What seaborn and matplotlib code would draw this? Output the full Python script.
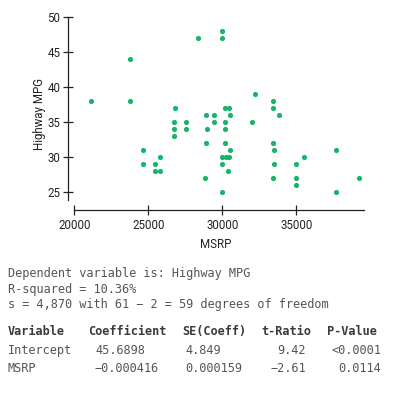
import numpy as np
import pandas as pd
import matplotlib
matplotlib.use("Agg")
import matplotlib.pyplot as plt
import seaborn as sns

msrp = [21100, 23760, 23760,
        26800, 30160, 30430, 33400,
        28340, 30000, 30000,
        32190, 33400,
        28880, 29460, 30540, 33850,
        26760, 27570, 29460, 30160, 32030,
        26760, 27570, 28970, 30160,
        26760,
        28880, 30160, 33400,
        24660, 30540, 33490, 37700,
        25770, 29960, 30230, 30470, 35540,
        24660, 25470, 29960, 33490, 34960,
        25470, 25770, 30370,
        28850, 33400, 34960, 39220,
        34960,
        29960, 37700]
hwy_mpg = [38, 44, 38,
           37, 37, 37, 37,
           47, 47, 48,
           39, 38,
           36, 36, 36, 36,
           35, 35, 35, 35, 35,
           34, 34, 34, 34,
           33,
           32, 32, 32,
           31, 31, 31, 31,
           30, 30, 30, 30, 30,
           29, 29, 29, 29, 29,
           28, 28, 28,
           27, 27, 27, 27,
           26,
           25, 25]

x_ticks = [20000, 25000, 30000, 35000]
y_ticks = [25, 30, 35, 40, 45, 50]

header = ["Variable", "Coefficient", "SE(Coeff)", "t-Ratio", "P-Value"]
rows = [["Intercept", "45.6898", "4.849", "9.42", "<0.0001"],
        ["MSRP", "\u22120.000416", "0.000159", "\u22122.61", "0.0114"]]
summary_lines = ["Dependent variable is: Highway MPG",
                 "R-squared = 10.36%",
                 "s = 4,870 with 61 \u2212 2 = 59 degrees of freedom"]

df = pd.DataFrame({"MSRP": msrp, "Highway MPG": hwy_mpg})

sns.set_style("ticks")
plt.rcParams["font.family"] = ["Roboto", "DejaVu Sans"]

fig = plt.figure(figsize=(3.94, 3.98), dpi=100)
ax = fig.add_axes([68 / 394, 1 - 210 / 398, (364 - 68) / 394, (210 - 17.3) / 398])

sns.scatterplot(data=df, x="MSRP", y="Highway MPG", ax=ax,
                color="#19b46a", s=14, linewidth=0)

ax.set_xlim(19575, 39575)
ax.set_ylim(22.47, 50)
ax.set_xticks(x_ticks)
ax.set_yticks(y_ticks)
ax.set_xticklabels([str(t) for t in x_ticks])
ax.spines["top"].set_visible(False)
ax.spines["right"].set_visible(False)
ax.spines["left"].set_bounds(23.9, 50)
ax.spines["bottom"].set_bounds(20000, 39575)
for sp in ("left", "bottom"):
    ax.spines[sp].set_color("#222222")
    ax.spines[sp].set_linewidth(0.9)
ax.tick_params(direction="inout", length=7, width=0.9, color="#222222",
               labelsize=8.3, labelcolor="#222222", pad=3)
ax.tick_params(axis="y", pad=2)
ax.set_xlabel("MSRP", fontsize=8.3, color="#222222", labelpad=4)
ax.set_ylabel("Highway MPG", fontsize=8.3, color="#222222", labelpad=1)

# regression output below the plot
mono = "DejaVu Sans Mono"
fs = 8.6
gray = "#555555"
for i, line in enumerate(summary_lines):
    fig.text(8 / 394, 1 - (274 + i * 15.4) / 398, line, family=mono,
             fontsize=fs, color=gray, va="center", ha="left")

col_left = [8, 87.7, 182.7, 261, 327.3]
fig_y = 1 - 331.7 / 398
for h, x in zip(header, col_left):
    fig.text(x / 394, fig_y, h, family=mono, fontsize=fs, color="#3a3a3a",
             weight="bold", va="center", ha="left")

row_y = [350.7, 368.7]
for r, y in zip(rows, row_y):
    fy = 1 - y / 398
    fig.text(8 / 394, fy, r[0], family=mono, fontsize=fs, color=gray, va="center", ha="left")
    fig.text((95.7 if r[0] == "Intercept" else 94.3) / 394, fy, r[1], family=mono,
             fontsize=fs, color=gray, va="center", ha="left")
    fig.text(185.7 / 394, fy, r[2], family=mono, fontsize=fs, color=gray, va="center", ha="left")
    fig.text(306 / 394, fy, r[3], family=mono, fontsize=fs, color=gray, va="center", ha="right")
    fig.text(381 / 394, fy, r[4], family=mono, fontsize=fs, color=gray, va="center", ha="right")

fig.savefig("out.png", dpi=100)
